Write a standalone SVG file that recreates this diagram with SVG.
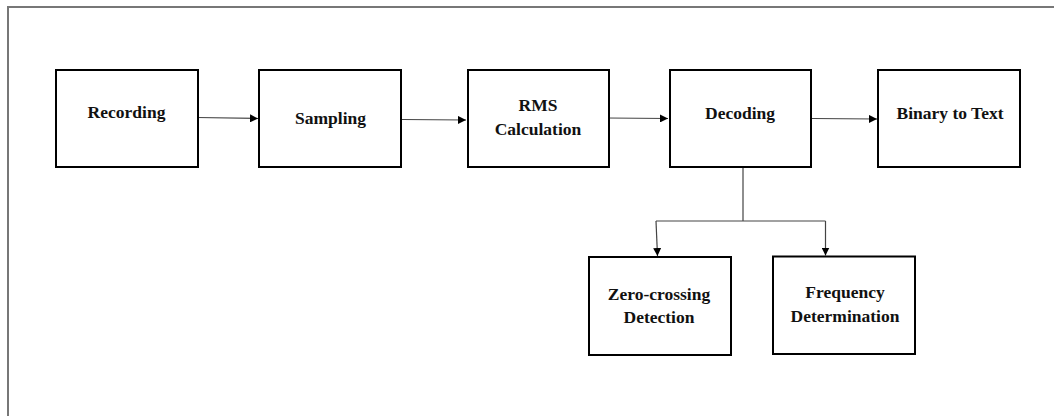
<svg xmlns="http://www.w3.org/2000/svg" width="1054" height="416" viewBox="0 0 1054 416">
<defs>
<style>
.box{fill:#fff;stroke:#000;stroke-width:2}
.lbl{font-family:"Liberation Serif","Times New Roman",serif;font-weight:bold;font-size:17.5px;fill:#111;text-anchor:middle}
.conn{fill:none;stroke:#444;stroke-width:1.2}
.frame{fill:none;stroke:#777;stroke-width:2}
</style>
<marker id="ah" viewBox="0 0 10 10" refX="10" refY="5" markerWidth="8" markerHeight="8" markerUnits="userSpaceOnUse" orient="auto">
<path d="M0,0 L10,5 L0,10 z" fill="#000"/>
</marker>
</defs>
<rect width="1054" height="416" fill="#fff"/>
<path class="frame" d="M8,416 V7 H1054"/>
<g id="connectors">
<path class="conn" d="M197,117.5 L258,118.5" marker-end="url(#ah)"/>
<path class="conn" d="M402,119.5 L466,120" marker-end="url(#ah)"/>
<path class="conn" d="M607,118 L668,118.5" marker-end="url(#ah)"/>
<path class="conn" d="M812,118.5 L877,119" marker-end="url(#ah)"/>
<path class="conn" d="M743,167 V221 M656,221 H825.5"/>
<path class="conn" d="M656,221 L657.5,256" marker-end="url(#ah)"/>
<path class="conn" d="M825.5,221 V255.5" marker-end="url(#ah)"/>
</g>
<g id="recording">
<rect class="box" x="56" y="70" width="142" height="97"/>
<text class="lbl" x="126.5" y="118">Recording</text>
</g>
<g id="sampling">
<rect class="box" x="259" y="70" width="142" height="97"/>
<text class="lbl" x="330.5" y="124">Sampling</text>
</g>
<g id="rms">
<rect class="box" x="468" y="70" width="141" height="97"/>
<text class="lbl" x="538" y="111">RMS</text>
<text class="lbl" x="538" y="135">Calculation</text>
</g>
<g id="decoding">
<rect class="box" x="670" y="70" width="141" height="97"/>
<text class="lbl" x="740" y="119">Decoding</text>
</g>
<g id="binary">
<rect class="box" x="878" y="70" width="142" height="97"/>
<text class="lbl" x="950" y="118.5">Binary to Text</text>
</g>
<g id="zerocrossing">
<rect class="box" x="589" y="257" width="142" height="98"/>
<text class="lbl" x="659" y="299.5">Zero-crossing</text>
<text class="lbl" x="659" y="323">Detection</text>
</g>
<g id="frequency">
<rect class="box" x="773" y="256.5" width="142" height="97.5"/>
<text class="lbl" x="845" y="298">Frequency</text>
<text class="lbl" x="845" y="322">Determination</text>
</g>
</svg>
